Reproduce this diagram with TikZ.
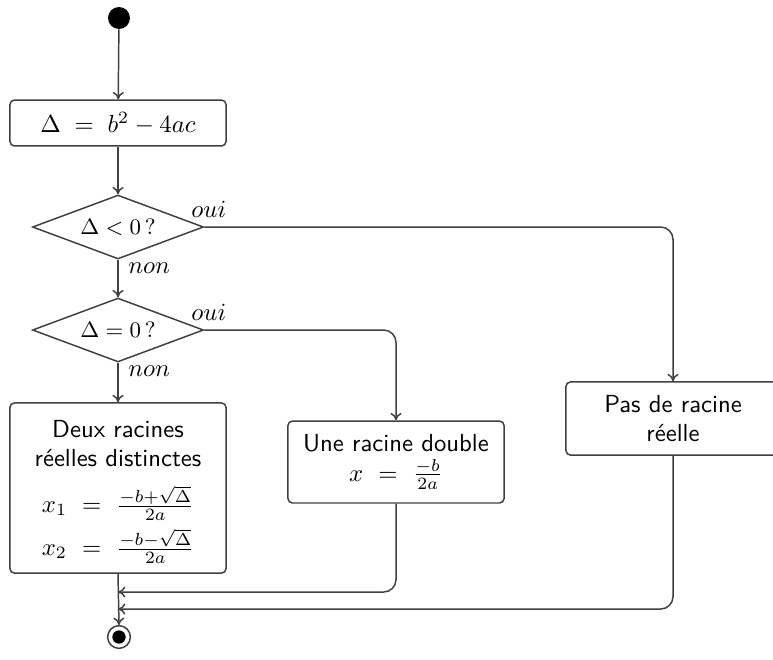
\documentclass[tikz,border=0pt]{standalone}
\usetikzlibrary{shapes.geometric,arrows.meta}
\begin{document}
\begin{tikzpicture}[x=0.405pt,y=-0.405pt,
  line/.style={draw=black!75, line width=0.6pt},
  arr/.style={line, rounded corners=5pt, -{To[length=3pt,width=4.5pt]}},
  act/.style={line, rectangle, rounded corners=1.8pt, align=center, font=\sffamily, inner sep=2pt},
  dec/.style={line, diamond, aspect=2.67, inner sep=0pt, minimum width=69.3pt, minimum height=25.9pt, font=\small},
  lbl/.style={inner sep=1.5pt},
]
\useasboundingbox (0,0) rectangle (773,659);

% start and end states
\node[circle, fill=black, minimum size=8.9pt, inner sep=0pt] (start) at (119,18) {};
\node[circle, line, minimum size=9.2pt, inner sep=0pt] (stop) at (119,637) {};
\fill (stop.center) circle[radius=2.7pt];

% actions
\node[act, minimum width=87.5pt, minimum height=18.6pt] (disc) at (118,123)
  {$\Delta \;=\; b^2 - 4ac$};
\node[act, minimum width=87.5pt, minimum height=68.9pt,
      font={\sffamily\lineskiplimit=-30pt\lineskip=0pt}] (deux) at (118,488)
  {\rule{0pt}{10.1pt}Deux racines\\réelles distinctes\\[6.4pt]
   $x_1 \ = \ \frac{-b+\sqrt{\Delta}}{2a}$\\[5.4pt]
   $x_2 \ = \ \frac{-b-\sqrt{\Delta}}{2a}$};
\node[act, minimum width=87.5pt, minimum height=33.2pt] (une) at (396,462)
  {Une racine double\\$x \ = \ \frac{-b}{2a}$};
\node[act, minimum width=86.7pt, minimum height=29.6pt] (pas) at (673,418.5)
  {Pas de racine\\réelle};

% decisions
\node[dec] (d1) at (118,227) {$\Delta < 0\,$?};
\node[dec] (d2) at (118,330) {$\Delta = 0\,$?};

% join points on the main column
\coordinate (j1) at (118,592);
\coordinate (j2) at (118,609);

% flow
\draw[arr] (start) -- (disc);
\draw[arr] (disc) -- (d1);
\draw[arr] (d1.south) -- (d2.north);
\draw[arr] (d2.south) -- (deux.north);
\draw[arr] (d1.east) -| (pas.north);
\draw[arr] (d2.east) -| (une.north);
\draw[arr] (une.south) |- (j1);
\draw[arr] (pas.south) |- (j2);
\draw[arr] (deux.south) -- (stop.north);

% branch labels
\node[lbl, anchor=south west, xshift=-6.9pt, yshift=2pt] at (d1.east) {$oui$};
\node[lbl, anchor=north west, xshift=2.5pt, yshift=0.5pt] at (d1.south) {$non$};
\node[lbl, anchor=south west, xshift=-6.9pt, yshift=2pt] at (d2.east) {$oui$};
\node[lbl, anchor=north west, xshift=2.5pt, yshift=0.5pt] at (d2.south) {$non$};
\end{tikzpicture}
\end{document}
